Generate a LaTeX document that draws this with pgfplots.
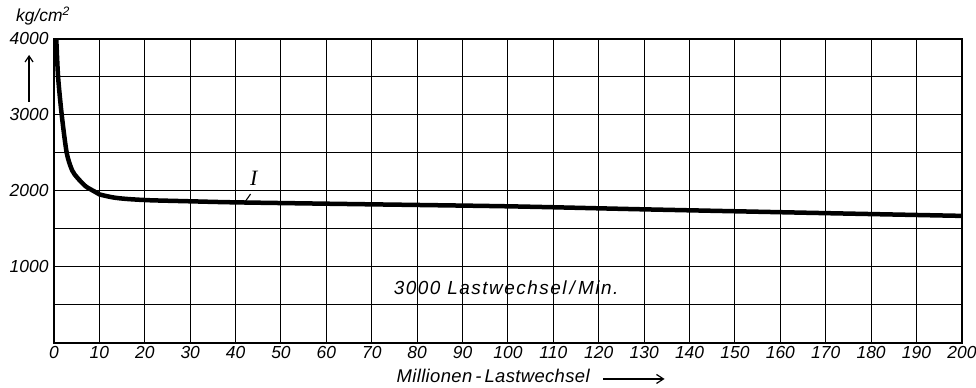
\documentclass[border=0pt]{standalone}
\usepackage{fontspec}
\setmainfont{Liberation Sans}
\newfontfamily\serifI{Liberation Serif}
\usepackage{pgfplots}
\pgfplotsset{compat=1.18}
\usetikzlibrary{arrows.meta}
\begin{document}
\begin{tikzpicture}
\begin{axis}[
  x=4.54bp, y=0.076bp,
  xmin=0, xmax=200, ymin=0, ymax=4000,
  axis line style={line width=2.2bp},
  grid=major, grid style={black, line width=1.0bp},
  xtick={0,10,...,200}, ytick={500,1000,...,4000},
  yticklabels={,1000,,2000,,3000,,4000},
  major tick length=0pt,
  /pgf/number format/assume math mode=true,
  /pgf/number format/1000 sep={},
  tick label style={font=\fontsize{17.5}{20}\selectfont\itshape},
  yticklabel style={xshift=-2bp},
  clip=false,
]
\addplot[black, line width=4.5bp, smooth, tension=0.45] coordinates {
 (0.5,4000) (0.9,3500) (1.7,3000) (2.8,2500) (4,2270) (5.2,2170) (7,2060) (9,1990)
 (10,1955) (13,1915) (16,1895) (21,1878) (30,1864) (40,1850) (65,1828)
 (100,1798) (130,1758) (170,1708) (200,1672)
};
\node[font=\fontsize{19}{22}\selectfont\itshape\addfontfeature{LetterSpace=8}] at (axis cs:99.6,724) {3000 Lastwechsel\,/\,Min.};
\node[font=\fontsize{22}{24}\selectfont\serifI\itshape] at (axis cs:44,2160) {I};
\draw[line width=1.1bp] (axis cs:42,1850) -- (axis cs:43.3,1960);
\node[font=\fontsize{17.5}{20}\selectfont\itshape] at (axis cs:-2.4,4303) {kg/cm\textsuperscript{2}};
\draw[line width=1.2bp, -{Straight Barb[length=6bp,width=8bp]}] (axis cs:-5.5,3171) -- (axis cs:-5.5,3790);
\node[anchor=base west, font=\fontsize{18.5}{21}\selectfont\itshape\addfontfeature{LetterSpace=2}] at (axis cs:74.7,-526) {Millionen\,-\,Lastwechsel};
\draw[line width=1.2bp, -{Straight Barb[length=7bp,width=9bp]}] (axis cs:121,-474) -- (axis cs:134.5,-474);
\coordinate (bl) at (axis cs:-11.9,-592);
\coordinate (tr) at (axis cs:203.1,4513);
\end{axis}
\pgfresetboundingbox
\path[use as bounding box] (bl) rectangle (tr);
\end{tikzpicture}
\end{document}
